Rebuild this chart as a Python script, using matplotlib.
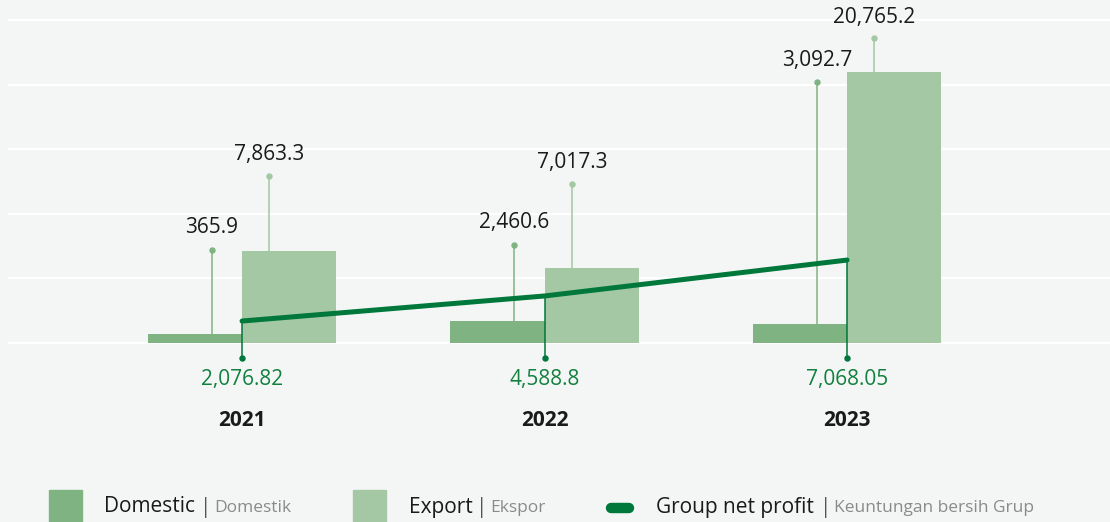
import numpy as np
import matplotlib
matplotlib.use("Agg")
import matplotlib.pyplot as plt
from matplotlib.patches import Rectangle

plt.rcParams["font.family"] = ["Open Sans", "DejaVu Sans"]

# data (bar heights follow the drawn bars, labels are the printed values)
years = ["2021", "2022", "2023"]
domestic = [700, 1700, 1480]
export = [7120, 5800, 20950]
net_profit = [1700, 3640, 6420]
domestic_labels = ["365.9", "2,460.6", "3,092.7"]
export_labels = ["7,863.3", "7,017.3", "20,765.2"]
profit_labels = ["2,076.82", "4,588.8", "7,068.05"]
domestic_pin = [7200, 7590, 20200]
export_pin = [12930, 12310, 23600]
grid_levels = [0, 5000, 10000, 15000, 20000, 25000]

c_dom = "#7fb482"
c_exp = "#a4c8a4"
c_line = "#00773b"
c_text = "#1a1a1a"
bg = "#f4f6f5"

fig = plt.figure(figsize=(11.1, 5.22), dpi=100, facecolor=bg)
ax = fig.add_axes([8 / 1110, 0, 1 - 8 / 1110, 1])
ax.set_facecolor(bg)
ax.set_xlim(-0.7736, 2.869)
ax.set_ylim(-13854, 26548)
ax.axis("off")

x = np.arange(len(years))
w = 0.311

for g in grid_levels:
    ax.axhline(g, color="white", lw=1.6, zorder=0)

ax.bar(x - w / 2, domestic, width=w, color=c_dom, zorder=2)
ax.bar(x + w / 2, export, width=w, color=c_exp, zorder=2)

# pins with value labels
for i in range(len(years)):
    xd = x[i] - 0.1
    ax.plot([xd, xd], [domestic[i], domestic_pin[i]], color=c_dom, lw=1.1, zorder=1)
    ax.plot(xd, domestic_pin[i], "o", color=c_dom, ms=3.6, zorder=3)
    ax.annotate(domestic_labels[i], (xd, domestic_pin[i]), xytext=(0, 22),
                textcoords="offset pixels", ha="center", va="center",
                fontsize=15, color=c_text)
    xe = x[i] + 0.09
    ax.plot([xe, xe], [export[i], export_pin[i]], color=c_exp, lw=1.1, zorder=1)
    ax.plot(xe, export_pin[i], "o", color=c_exp, ms=3.6, zorder=3)
    ax.annotate(export_labels[i], (xe, export_pin[i]), xytext=(0, 21),
                textcoords="offset pixels", ha="center", va="center",
                fontsize=15, color=c_text)

# net profit line
ax.plot(x, net_profit, color=c_line, lw=3.6, solid_capstyle="round", zorder=4)
for i in range(len(years)):
    ax.plot([x[i], x[i]], [net_profit[i], -1160], color=c_line, lw=1.1, zorder=4)
    ax.plot(x[i], -1160, "o", color=c_line, ms=3.6, zorder=4)
    ax.text(x[i], -2860, profit_labels[i], ha="center", va="center",
            fontsize=15, color="#12803f")
    ax.text(x[i], -5960, years[i], ha="center", va="center",
            fontsize=15, fontweight="bold", color=c_text)

# legend drawn in pixel space
lg = fig.add_axes([0, 0, 1, 1])
lg.set_xlim(0, 1110)
lg.set_ylim(522, 0)
lg.axis("off")
lg.add_patch(Rectangle((49, 490), 33, 33, color=c_dom))
lg.add_patch(Rectangle((353, 490), 33, 33, color=c_exp))
lg.plot([611, 629], [508, 508], color=c_line, lw=7.5, solid_capstyle="round")
items = [(104, 206, 214, "Domestic", "Domestik"),
         (409, 482, 490, "Export", "Ekspor"),
         (656, 826, 834, "Group net profit", "Keuntungan bersih Grup")]
for tx, px, sx, main, sub in items:
    lg.text(tx, 507, main, fontsize=15, color=c_text, va="center", ha="left")
    lg.text(px, 507, "|", fontsize=15, color="#555555", va="center", ha="center")
    lg.text(sx, 508, sub, fontsize=12.5, color="#8a8a8a", va="center", ha="left")

fig.savefig("out.png", dpi=100, facecolor=bg)
